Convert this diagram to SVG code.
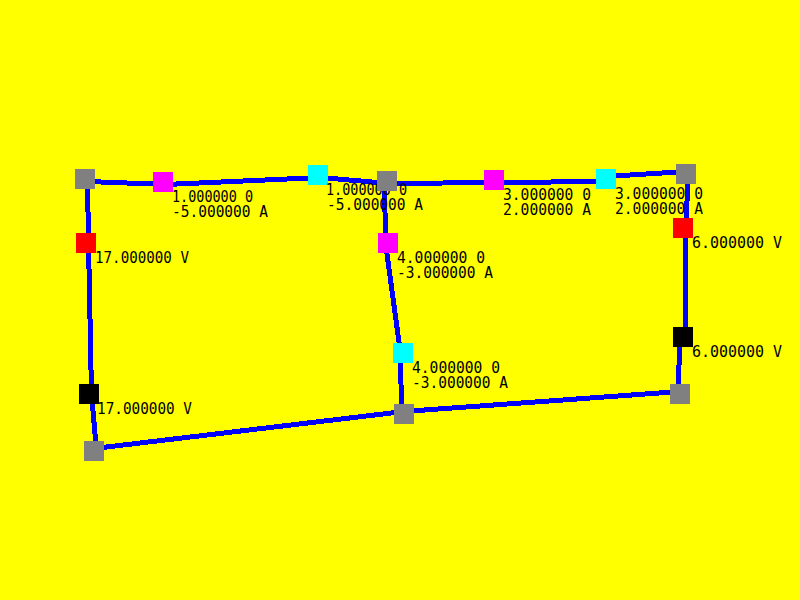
<svg xmlns="http://www.w3.org/2000/svg" width="800" height="600" viewBox="0 0 800 600">
<style>
.w{fill:none;stroke:#00f;stroke-width:5;shape-rendering:crispEdges;stroke-linecap:square}
.n{shape-rendering:crispEdges;width:20px;height:20px}
.g{fill:#808080}.m{fill:#f0f}.c{fill:#0ff}.r{fill:#f00}.b{fill:#000}
text{font-family:"DejaVu Sans Mono","Liberation Mono",monospace;font-size:16px;fill:#000}
</style>
<rect width="800" height="600" fill="#ff0"/>
<g id="connectors">
<polyline class="w" points="87.5,181.5 165.5,184.5 320.5,177.5 389.5,183.5 496.5,182.5 606,181.5"/>
<line class="w" x1="606" y1="176.5" x2="686" y2="171.5"/>
<polyline class="w" points="688.5,174 685.5,228 685.5,337"/>
<line class="w" x1="680.5" y1="337" x2="677.5" y2="394"/>
<polyline class="w" points="680,391.5 404,411.5 94,448.5"/>
<polyline class="w" points="96.5,451 91.5,394 88.5,243 87.5,179"/>
<polyline class="w" points="384.5,181 385.5,243 400.5,353 401.5,414"/>
</g>
<g id="node-m1"><rect class="n m" x="153" y="172"/><text x="172" y="202" textLength="81" lengthAdjust="spacingAndGlyphs">1.000000 0</text><text x="172" y="217" textLength="96" lengthAdjust="spacingAndGlyphs">-5.000000 A</text></g>
<g id="node-c1"><rect class="n c" x="308" y="165"/><text x="326" y="195" textLength="81" lengthAdjust="spacingAndGlyphs">1.000000 0</text><text x="327" y="210" textLength="96" lengthAdjust="spacingAndGlyphs">-5.000000 A</text></g>
<g id="node-m2"><rect class="n m" x="484" y="170"/><text x="503" y="200" textLength="88" lengthAdjust="spacingAndGlyphs">3.000000 0</text><text x="503" y="215" textLength="88" lengthAdjust="spacingAndGlyphs">2.000000 A</text></g>
<g id="node-c2"><rect class="n c" x="596" y="169"/><text x="615" y="199" textLength="88" lengthAdjust="spacingAndGlyphs">3.000000 0</text><text x="615" y="214" textLength="88" lengthAdjust="spacingAndGlyphs">2.000000 A</text></g>
<g id="node-m3"><rect class="n m" x="378" y="233"/><text x="397" y="263" textLength="88" lengthAdjust="spacingAndGlyphs">4.000000 0</text><text x="397" y="278" textLength="96" lengthAdjust="spacingAndGlyphs">-3.000000 A</text></g>
<g id="node-c3"><rect class="n c" x="393" y="343"/><text x="412" y="373" textLength="88" lengthAdjust="spacingAndGlyphs">4.000000 0</text><text x="412" y="388" textLength="96" lengthAdjust="spacingAndGlyphs">-3.000000 A</text></g>
<g id="node-red-left"><rect class="n r" x="76" y="233"/><text x="95" y="263" textLength="94" lengthAdjust="spacingAndGlyphs">17.000000 V</text></g>
<g id="node-black-left"><rect class="n b" x="79" y="384"/><text x="97" y="414" textLength="95" lengthAdjust="spacingAndGlyphs">17.000000 V</text></g>
<g id="node-red-right"><rect class="n r" x="673" y="218"/><text x="692" y="248" textLength="90" lengthAdjust="spacingAndGlyphs">6.000000 V</text></g>
<g id="node-black-right"><rect class="n b" x="673" y="327"/><text x="692" y="357" textLength="90" lengthAdjust="spacingAndGlyphs">6.000000 V</text></g>
<g id="node-gray-tl"><rect class="n g" x="75" y="169"/></g>
<g id="node-gray-tm"><rect class="n g" x="377" y="171"/></g>
<g id="node-gray-tr"><rect class="n g" x="676" y="164"/></g>
<g id="node-gray-br"><rect class="n g" x="670" y="384"/></g>
<g id="node-gray-bm"><rect class="n g" x="394" y="404"/></g>
<g id="node-gray-bl"><rect class="n g" x="84" y="441"/></g>
</svg>
